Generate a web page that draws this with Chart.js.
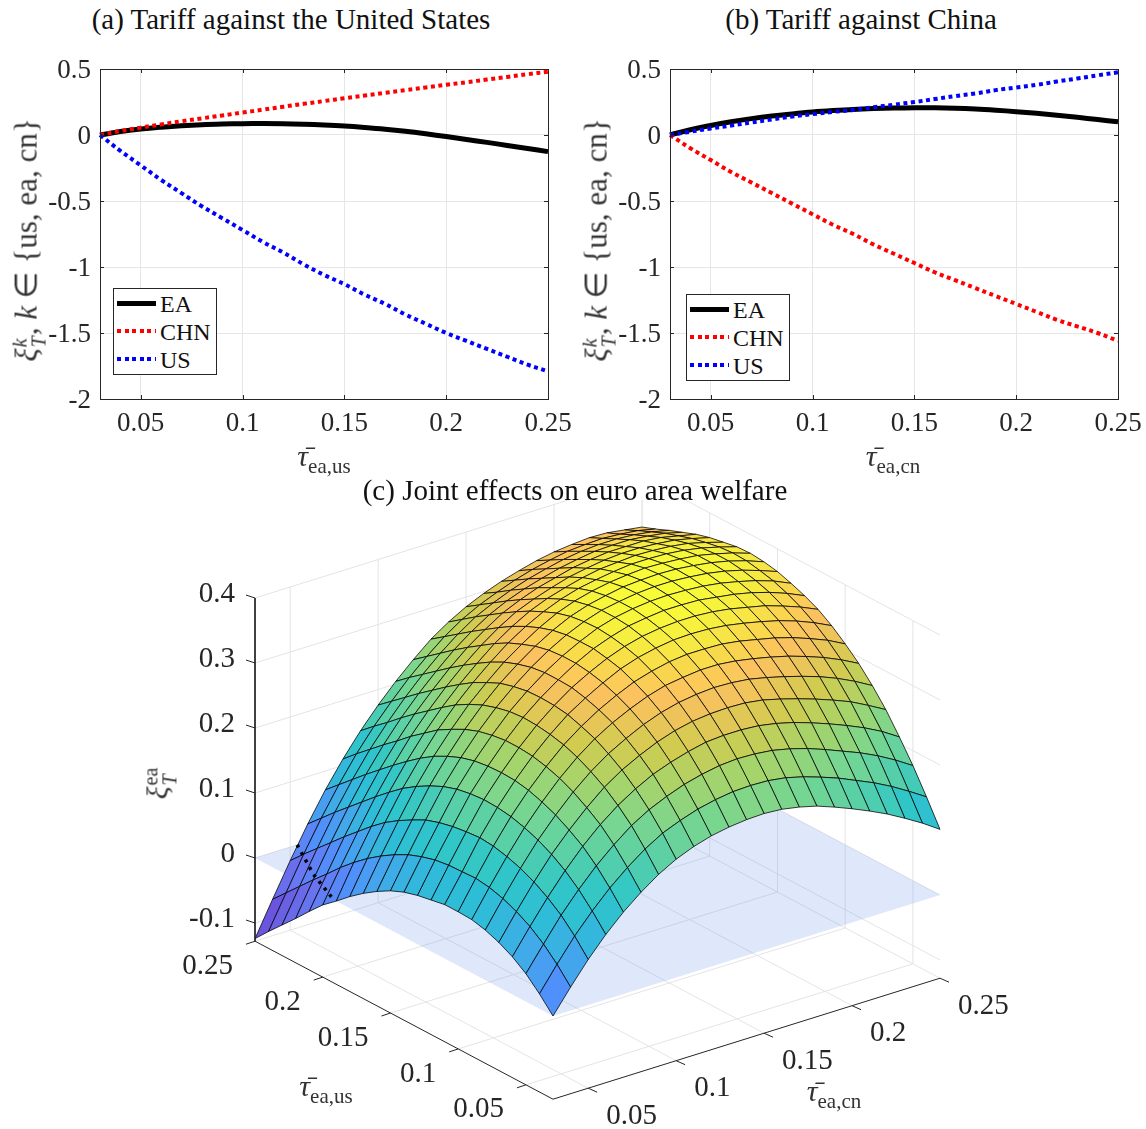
<!DOCTYPE html>
<html><head><meta charset="utf-8">
<script src="https://cdn.jsdelivr.net/npm/chart.js@4"></script>
<style>
html,body{margin:0;padding:0;background:#fff}
body{position:relative;width:1146px;height:1129px;overflow:hidden;font-family:"Liberation Serif",serif;color:#222}
canvas{position:absolute}
.t{position:absolute;white-space:nowrap;transform:translate(-50%,-50%)}
.title{font-size:29px;color:#111}
.lab{font-size:30px;color:#333}
.rot{transform:translate(-50%,-50%) rotate(-90deg)}
.ss{display:inline-block;vertical-align:middle;line-height:.95;font-size:20px;text-align:left;margin:0 1px}
.ss i,.ss b{display:block;font-weight:normal}
sub{font-size:21px;line-height:0}
.legend{position:absolute;width:104px;height:87px;background:#fff;border:1px solid #262626;box-sizing:border-box;font-size:24px;color:#111}
.legend div{position:absolute;left:46px;white-space:nowrap;line-height:28px}
.legend span{position:absolute;left:3px;width:39px}
</style></head><body>
<canvas id="chartA" width="573" height="410" style="left:0;top:40px"></canvas>
<canvas id="chartB" width="573" height="410" style="left:570px;top:40px"></canvas>
<canvas id="chartC" width="1146" height="629" style="left:0;top:500px"></canvas>
<div class="t title" style="left:291px;top:19px">(a) Tariff against the United States</div>
<div class="t title" style="left:861px;top:19px">(b) Tariff against China</div>
<div class="t title" style="left:575px;top:490px">(c) Joint effects on euro area welfare</div>
<div class="t lab rot" style="left:28px;top:240px;font-size:31px"><i>ξ</i><span class="ss"><i>k</i><i>T</i></span>, <i>k</i> ∈ {us, ea, cn}</div>
<div class="t lab rot" style="left:598px;top:240px;font-size:31px"><i>ξ</i><span class="ss"><i>k</i><i>T</i></span>, <i>k</i> ∈ {us, ea, cn}</div>
<div class="t lab rot" style="left:160px;top:783px"><i>ξ</i><span class="ss"><b>ea</b><i>T</i></span></div>
<div class="t lab" style="left:324px;top:456px"><i>τ̄</i><sub>ea,us</sub></div>
<div class="t lab" style="left:893px;top:456px"><i>τ̄</i><sub>ea,cn</sub></div>
<div class="t lab" style="left:326px;top:1086px"><i>τ̄</i><sub>ea,us</sub></div>
<div class="t lab" style="left:834px;top:1091px"><i>τ̄</i><sub>ea,cn</sub></div>
<div class="legend" id="legA" style="left:113px;top:288px"></div>
<div class="legend" id="legB" style="left:686px;top:294px"></div>
<script>
// --- DATA ---
const tauGrid = [0.03,0.04,0.05,0.06,0.07,0.08,0.09,0.10,0.11,0.12,0.13,0.14,0.15,0.16,0.17,0.18,0.19,0.20,0.21,0.22,0.23,0.24,0.25];
const seriesNames = ['EA','CHN','US'];
const tauTicks = [0.05,0.1,0.15,0.2,0.25];
const tauTickLabels = ['0.05','0.1','0.15','0.2','0.25'];
const yTicks = [0.5,0,-0.5,-1,-1.5,-2];
const yTickLabels = ['0.5','0','-0.5','-1','-1.5','-2'];
const zTicks = [0.4,0.3,0.2,0.1,0,-0.1];
const zTickLabels = ['0.4','0.3','0.2','0.1','0','-0.1'];

const usEA = [0,0.026,0.045,0.059,0.07,0.078,0.083,0.086,0.087,0.086,0.082,0.076,0.068,0.057,0.044,0.028,0.009,-0.012,-0.034,-0.056,-0.079,-0.102,-0.126];
const usCHN = [0,0.03,0.056,0.08,0.104,0.126,0.148,0.17,0.192,0.214,0.236,0.257,0.278,0.299,0.32,0.34,0.36,0.38,0.4,0.42,0.44,0.46,0.48];
const usUS = [0,-0.12,-0.23,-0.34,-0.44,-0.54,-0.63,-0.72,-0.81,-0.89,-0.98,-1.06,-1.13,-1.21,-1.28,-1.36,-1.43,-1.5,-1.56,-1.62,-1.68,-1.74,-1.79];
const cnEA = [0,0.04,0.072,0.1,0.124,0.144,0.16,0.174,0.185,0.194,0.2,0.204,0.206,0.206,0.203,0.197,0.188,0.177,0.164,0.15,0.134,0.117,0.1];
const cnCHN = [0,-0.1,-0.19,-0.28,-0.36,-0.44,-0.52,-0.6,-0.68,-0.75,-0.83,-0.9,-0.97,-1.04,-1.1,-1.16,-1.22,-1.28,-1.34,-1.4,-1.45,-1.5,-1.56];
const cnUS = [0,0.025,0.05,0.072,0.095,0.118,0.14,0.158,0.175,0.19,0.21,0.23,0.25,0.272,0.295,0.315,0.34,0.36,0.38,0.405,0.428,0.452,0.475];

// welfare surface in thousandths: one row per tau_cn, one column per tau_us
const welfareMilli = [
[0,23,43,58,69,77,82,83,83,79,75,69,60,48,34,18,0,-17,-38,-60,-81,-102,-124],
[36,60,80,96,108,117,123,126,125,124,121,115,107,96,83,68,51,32,11,-9,-30,-51,-72],
[70,95,116,132,145,155,162,167,169,167,164,159,152,141,129,115,98,79,60,40,20,0,-21],
[100,125,147,165,179,190,198,204,207,208,206,202,195,185,173,159,142,124,105,86,67,47,27],
[126,152,175,194,208,220,229,236,240,241,240,237,231,222,211,197,181,164,146,128,109,90,71],
[148,175,199,219,234,247,257,264,269,271,271,268,263,255,244,232,216,200,182,165,147,129,110],
[167,195,220,240,257,270,281,289,294,297,298,296,291,284,274,262,247,231,215,198,180,163,145],
[182,211,236,257,275,289,301,309,316,319,320,319,315,309,299,288,274,259,243,227,210,193,176],
[193,222,248,271,289,304,317,326,333,338,339,339,336,330,322,311,298,284,269,253,237,221,204],
[201,231,258,281,301,317,330,340,348,353,356,356,354,349,341,332,320,306,292,277,261,245,229],
[206,237,265,289,310,327,341,352,361,366,370,370,369,365,358,349,338,325,311,297,282,267,252],
[209,241,270,295,316,334,349,360,370,376,380,382,381,378,372,363,353,341,328,314,300,285,270],
[210,242,272,297,319,338,353,366,376,383,388,390,390,387,382,374,364,352,340,327,313,299,285],
[208,241,271,297,320,340,356,369,380,387,392,395,395,393,389,382,372,361,350,337,324,310,297],
[203,237,268,295,319,339,356,369,381,389,395,398,399,398,394,387,379,369,357,345,333,320,307],
[196,230,262,290,315,336,353,368,380,389,395,399,401,400,397,391,384,374,364,352,340,328,315],
[186,221,254,283,308,330,348,364,377,387,394,398,401,401,399,394,386,378,368,357,346,334,322],
[175,211,244,274,300,323,342,358,372,383,390,396,399,400,398,394,388,380,371,361,350,339,327],
[163,199,233,264,291,315,335,352,366,377,386,392,396,397,396,393,387,380,371,362,352,341,330],
[150,187,222,253,281,306,326,344,359,371,380,386,391,393,393,390,385,378,371,362,352,342,332],
[135,173,209,241,270,295,316,334,350,362,372,379,384,387,387,385,381,375,368,359,350,340,331],
[119,157,194,227,256,282,304,323,339,352,362,370,375,379,380,378,374,369,362,355,346,337,327],
[101,140,177,210,241,267,290,309,326,340,350,358,365,369,371,370,366,362,356,348,340,331,323]
];

const contourCn = [0.054,0.04,0.03];
const contourUs = [0.25,0.22,0.192];

// --- PANELS (a) AND (b) ---
const frame = {
    id: 'frame',
    afterDraw(chart) {
        let a = chart.chartArea, c = chart.ctx, xs = chart.scales.x, ys = chart.scales.y;
        c.save(); c.strokeStyle = '#262626'; c.lineWidth = 1;
        c.strokeRect(a.left + 0.5, a.top + 0.5, a.right - a.left, a.bottom - a.top);
        c.beginPath();
        tauTicks.forEach(t => { let x = Math.round(xs.getPixelForValue(t)) + 0.5; c.moveTo(x, a.bottom); c.lineTo(x, a.bottom - 4); c.moveTo(x, a.top); c.lineTo(x, a.top + 4); });
        yTicks.forEach(t => { let y = Math.round(ys.getPixelForValue(t)) + 0.5; c.moveTo(a.left, y); c.lineTo(a.left + 4, y); c.moveTo(a.right, y); c.lineTo(a.right - 4, y); });
        c.stroke(); c.restore();
    }
};

function panel(id, ea, chn, us) {
    let styles = [
        { data: ea, color: '#000000', w: 5, dash: [] },
        { data: chn, color: '#ff0000', w: 4, dash: [4, 3.6] },
        { data: us, color: '#0000ff', w: 4, dash: [4, 3.6] }
    ];
    return new Chart(document.getElementById(id), {
        type: 'line',
        data: { labels: tauGrid, datasets: styles.map((s, i) => ({
            label: seriesNames[i],
            data: s.data.map((v, n) => ({ x: tauGrid[n], y: v })),
            borderColor: s.color, borderWidth: s.w, borderDash: s.dash, pointRadius: 0, tension: 0.4, order: 2 - i, clip: false
        })) },
        plugins: [frame],
        options: {
            responsive: false, animation: false, events: [],
            layout: { padding: { top: 29, right: 25, left: 0, bottom: 0 } },
            plugins: { legend: { display: false }, tooltip: { enabled: false } },
            scales: {
                x: { type: 'linear', min: 0.03, max: 0.25,
                    afterBuildTicks: s => { s.ticks = tauTicks.map(v => ({ value: v })); },
                    afterFit: s => { s.height = 51; s.paddingLeft = 0; s.paddingRight = 0; },
                    grid: { color: '#e6e6e6', drawTicks: false }, border: { display: false },
                    ticks: { padding: 9, maxRotation: 0, color: '#262626', font: { family: 'Liberation Serif', size: 27 }, callback: (v) => tauTickLabels[tauTicks.indexOf(v)] } },
                y: { type: 'linear', min: -2, max: 0.5,
                    afterBuildTicks: s => { s.ticks = yTicks.map(v => ({ value: v })); },
                    afterFit: s => { s.width = 100; s.paddingTop = 0; s.paddingBottom = 0; },
                    grid: { color: '#e6e6e6', drawTicks: false }, border: { display: false },
                    ticks: { padding: 9, labelOffset: 2, color: '#262626', font: { family: 'Liberation Serif', size: 27 }, callback: (v) => yTickLabels[yTicks.indexOf(v)] } }
            }
        }
    });
}
panel('chartA', usEA, usCHN, usUS);
panel('chartB', cnEA, cnCHN, cnUS);

['legA', 'legB'].forEach(id => {
    let box = document.getElementById(id);
    let marks = ['height:5px;background:#000', 'height:4px;background:repeating-linear-gradient(90deg,#f00 0 4px,transparent 4px 7.6px)', 'height:4px;background:repeating-linear-gradient(90deg,#00f 0 4px,transparent 4px 7.6px)'];
    seriesNames.forEach((n, i) => {
        box.innerHTML += `<span style="top:${12 + i * 28}px;${marks[i]}"></span><div style="top:${1 + i * 28}px">${n}</div>`;
    });
});

// --- PANEL (c) ---
const zBottom = -0.128, zTop = 0.4, tauMin = 0.03, tauMax = 0.25;
function project(cn, us, z) {
    let u = (cn - tauMin) / (tauMax - tauMin), v = (us - tauMin) / (tauMax - tauMin);
    return { x: 553 + 387 * u - 298 * v, y: 1016 - 121 * u - 158 * v - 650 * z };
}
const cellStops = [[-0.126,'#6a55dd'],[-0.05,'#6878f2'],[0,'#4f90fa'],[0.04,'#42a8ea'],[0.08,'#2ebcd8'],[0.12,'#30c6c8'],[0.16,'#58d0a8'],[0.20,'#78d690'],[0.24,'#a4d46c'],[0.28,'#d0cc50'],[0.31,'#eec45a'],[0.33,'#fcc260'],[0.35,'#f9d64e'],[0.37,'#f6ea42'],[0.395,'#f8fb38']];
function cellColor(z) {
    let hex = s => [1, 3, 5].map(i => parseInt(s.substr(i, 2), 16));
    for (let i = 1; i < cellStops.length; i++) {
        if (z <= cellStops[i][0]) {
            let a = cellStops[i - 1], b = cellStops[i], t = Math.max(0, (z - a[0]) / (b[0] - a[0]));
            let ca = hex(a[1]), cb = hex(b[1]);
            return `rgb(${ca.map((c, n) => Math.round(c + (cb[n] - c) * t)).join(',')})`;
        }
    }
    return cellStops[cellStops.length - 1][1];
}
function seg(points, color, w, dash) {
    return { data: points, showLine: true, borderColor: color, borderWidth: w, borderDash: dash || [], pointRadius: 0, fill: false, clip: false };
}
let sets3d = [];

// axes and the contour stay on top (first dataset is drawn last)
sets3d.push(seg(contourCn.map((c, i) => project(c, contourUs[i], 0)), '#000000', 3.5, [3, 5.5]));
sets3d.push(seg([project(tauMin, tauMax, zBottom), project(tauMin, tauMin, zBottom), project(tauMax, tauMin, zBottom)], '#262626', 1));
sets3d.push(seg([project(tauMin, tauMax, zTop), project(tauMin, tauMax, zBottom)], '#262626', 1));
tauTicks.forEach(t => {
    let a = project(tauMin, t, zBottom), b = project(t, tauMin, zBottom);
    sets3d.push(seg([a, { x: a.x - 9, y: a.y + 3 }], '#262626', 1));
    sets3d.push(seg([b, { x: b.x + 9, y: b.y + 4 }], '#262626', 1));
});
zTicks.forEach(t => {
    let a = project(tauMin, tauMax, t);
    sets3d.push(seg([a, { x: a.x - 9, y: a.y - 3 }], '#262626', 1));
});

// surface cells, nearest first
for (let k = 0; k < tauGrid.length - 1; k++) {
    for (let j = 0; j < tauGrid.length - 1; j++) {
        let c = [[k, j], [k + 1, j], [k + 1, j + 1], [k, j + 1], [k, j]];
        let low = Math.min(welfareMilli[k][j], welfareMilli[k + 1][j], welfareMilli[k][j + 1], welfareMilli[k + 1][j + 1]) / 1000;
        sets3d.push({
            data: c.map(p => project(tauGrid[p[0]], tauGrid[p[1]], welfareMilli[p[0]][p[1]] / 1000)),
            showLine: true, fill: 'shape', backgroundColor: cellColor(low), borderColor: 'rgba(0,0,0,0.85)', borderWidth: 0.9, pointRadius: 0, clip: false
        });
    }
}

// zero plane
let planeCorners = [[tauMin, tauMin], [tauMax, tauMin], [tauMax, tauMax], [tauMin, tauMax], [tauMin, tauMin]];
sets3d.push({ data: planeCorners.map(p => project(p[0], p[1], 0)), showLine: true, fill: 'shape', backgroundColor: 'rgba(95,135,235,0.2)', borderColor: 'rgba(0,0,0,0)', borderWidth: 0, pointRadius: 0, clip: false });

// floor and wall grid
const gridCol = '#e4e4e4';
tauTicks.forEach(t => {
    sets3d.push(seg([project(t, tauMin, zBottom), project(t, tauMax, zBottom), project(t, tauMax, zTop)], gridCol, 1));
    sets3d.push(seg([project(tauMin, t, zBottom), project(tauMax, t, zBottom), project(tauMax, t, zTop)], gridCol, 1));
});
zTicks.forEach(t => {
    sets3d.push(seg([project(tauMin, tauMax, t), project(tauMax, tauMax, t), project(tauMax, tauMin, t)], gridCol, 1));
});

const tickText = {
    id: 'tickText',
    afterDraw(chart) {
        let c = chart.ctx, xs = chart.scales.x, ys = chart.scales.y;
        c.save(); c.fillStyle = '#262626'; c.font = '29px "Liberation Serif"'; c.textBaseline = 'middle';
        let put = (txt, p, dx, dy, align) => { c.textAlign = align; c.fillText(txt, xs.getPixelForValue(p.x) + dx, ys.getPixelForValue(p.y) + dy); };
        zTicks.forEach((t, i) => put(zTickLabels[i], project(tauMin, tauMax, t), -20, -4, 'right'));
        tauTicks.forEach((t, i) => {
            put(tauTickLabels[i], project(tauMin, t, zBottom), -22, 25, 'right');
            put(tauTickLabels[i], project(t, tauMin, zBottom), 18, 28, 'left');
        });
        c.restore();
    }
};

new Chart(document.getElementById('chartC'), {
    type: 'scatter',
    data: { datasets: sets3d },
    plugins: [tickText],
    options: {
        responsive: false, animation: false, events: [],
        layout: { padding: 0 },
        plugins: { legend: { display: false }, tooltip: { enabled: false } },
        scales: {
            x: { type: 'linear', display: false, min: 0, max: 1146 },
            y: { type: 'linear', display: false, min: 500, max: 1129, reverse: true }
        }
    }
});
</script>
</body></html>
